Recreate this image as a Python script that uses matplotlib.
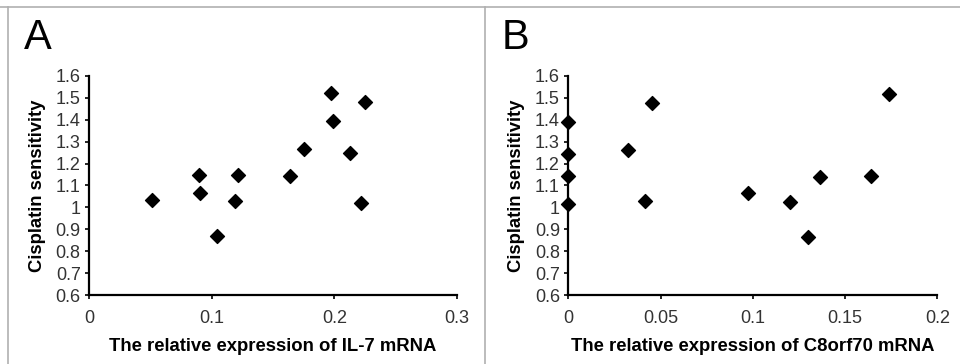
import matplotlib
matplotlib.use("Agg")
import matplotlib.pyplot as plt
from matplotlib.lines import Line2D

plt.rcParams['font.family'] = ['Liberation Sans', 'DejaVu Sans']

# panel A: IL-7
il7_x = [0.051, 0.0897, 0.0905, 0.104, 0.119, 0.1217, 0.164, 0.175, 0.197, 0.199, 0.213, 0.2215, 0.225]
il7_y = [1.034, 1.148, 1.067, 0.869, 1.029, 1.148, 1.143, 1.267, 1.524, 1.396, 1.250, 1.020, 1.483]

# panel B: C8orf70
c8_x = [0.0, 0.0, 0.0, 0.0, 0.0322, 0.0416, 0.0452, 0.0976, 0.120, 0.130, 0.1364, 0.1639, 0.174]
c8_y = [1.392, 1.245, 1.142, 1.016, 1.262, 1.031, 1.476, 1.066, 1.025, 0.866, 1.139, 1.145, 1.518]

y_ticks = [0.6, 0.7, 0.8, 0.9, 1.0, 1.1, 1.2, 1.3, 1.4, 1.5, 1.6]
y_labels = ['0.6', '0.7', '0.8', '0.9', '1', '1.1', '1.2', '1.3', '1.4', '1.5', '1.6']
a_ticks = [0, 0.1, 0.2, 0.3]
a_labels = ['0', '0.1', '0.2', '0.3']
b_ticks = [0, 0.05, 0.1, 0.15, 0.2]
b_labels = ['0', '0.05', '0.1', '0.15', '0.2']

W, H = 960, 364
fig = plt.figure(figsize=(W / 100, H / 100), dpi=100)

# frame lines
for xs, ys in [([0, 1], [1 - 7 / H, 1 - 7 / H]),
               ([8 / W, 8 / W], [0, 1 - 7 / H]),
               ([485 / W, 485 / W], [0, 1 - 7 / H])]:
    fig.add_artist(Line2D(xs, ys, color='#b0b0b0', lw=1.2))


def panel(left, right, xs, ys, xt, xl, xmax, xlabel, letter, letter_x):
    ax = fig.add_axes([left / W, 1 - 295 / H, (right - left) / W, (295 - 76) / H])
    ax.scatter(xs, ys, marker='D', s=50, color='black', zorder=3, clip_on=False)
    ax.set_xlim(0, xmax)
    ax.set_ylim(0.6, 1.6)
    ax.set_xticks(xt)
    ax.set_xticklabels(xl)
    ax.set_yticks(y_ticks)
    ax.set_yticklabels(y_labels)
    for s in ['top', 'right']:
        ax.spines[s].set_visible(False)
    for s in ['left', 'bottom']:
        ax.spines[s].set_linewidth(1.6)
    ax.tick_params(direction='out', length=3, width=1.2, labelsize=13,
                   labelcolor='#333333', pad=3)
    ax.tick_params(axis='x', pad=8)
    ax.set_xlabel(xlabel, fontsize=13.3, fontweight='bold', labelpad=8)
    ax.set_ylabel('Cisplatin sensitivity', fontsize=13.3, fontweight='bold', labelpad=7)
    fig.text(letter_x / W, 1 - 38 / H, letter, fontsize=30, va='center', ha='left')
    return ax


panel(89, 457, il7_x, il7_y, a_ticks, a_labels, 0.3,
      'The relative expression of IL-7 mRNA', 'A', 24)
panel(568.3, 937.3, c8_x, c8_y, b_ticks, b_labels, 0.2,
      'The relative expression of C8orf70 mRNA', 'B', 502)

fig.savefig('out.png', dpi=100)
